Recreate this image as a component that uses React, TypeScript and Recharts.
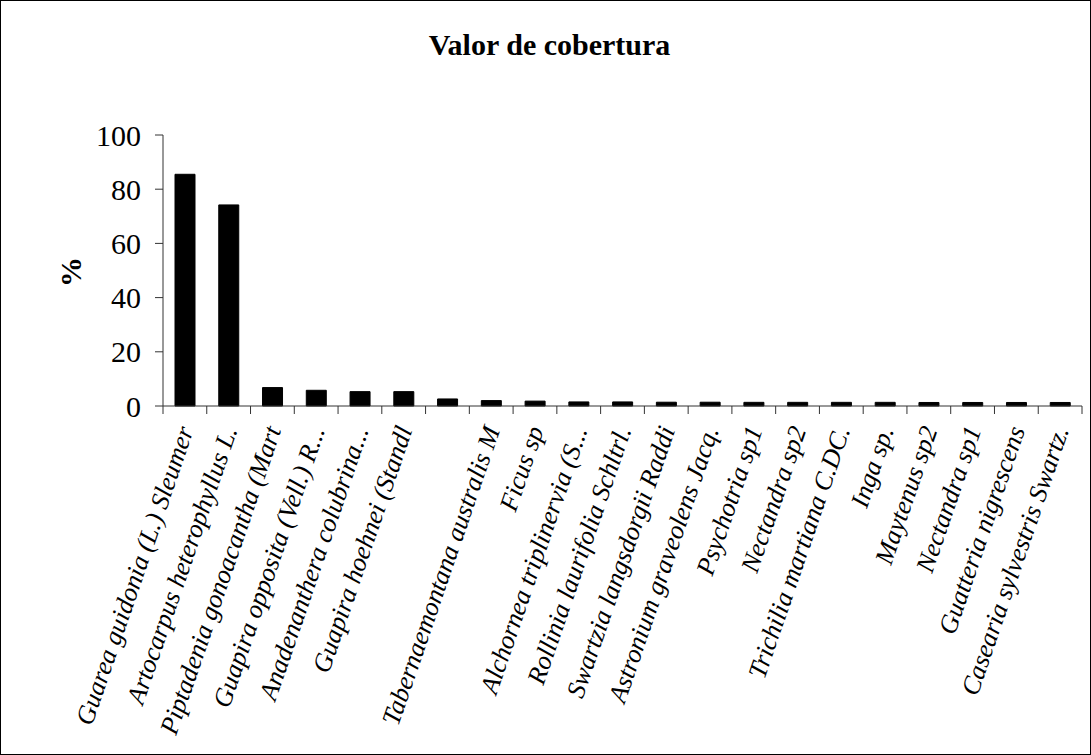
import React from 'react';
import { BarChart, Bar, XAxis, YAxis } from 'recharts';

// species names as they appear (truncated) on the category axis
const species = [
  'Guarea guidonia (L.) Sleumer',
  'Artocarpus heterophyllus L.',
  'Piptadenia gonoacantha (Mart',
  'Guapira opposita (Vell.) R...',
  'Anadenanthera colubrina...',
  'Guapira hoehnei (Standl',
  '',
  'Tabernaemontana australis M',
  'Ficus sp',
  'Alchornea triplinervia (S...',
  'Rollinia laurifolia Schltrl.',
  'Swartzia langsdorgii Raddi',
  'Astronium graveolens Jacq.',
  'Psychotria sp1',
  'Nectandra sp2',
  'Trichilia martiana C.DC.',
  'Inga sp.',
  'Maytenus sp2',
  'Nectandra sp1',
  'Guatteria nigrescens',
  'Casearia sylvestris Swartz.',
];

const cobertura = [
  85.5, 74.2, 6.8, 5.8, 5.3, 5.3, 2.6, 2.0, 1.8, 1.5, 1.5,
  1.4, 1.4, 1.35, 1.35, 1.35, 1.35, 1.3, 1.3, 1.3, 1.3,
];

const yTicks = [0, 20, 40, 60, 80, 100];

const FONT = '"Liberation Serif", "Times New Roman", serif';
const W = 1089;
const H = 753;
const M = { top: 134, right: 8, left: 0, bottom: 0 };
const Y_W = 162;
const X_H = 348;
const BAND = (W - M.left - M.right - Y_W) / species.length;
const AXIS = '#333';

const data = species.map((name, i) => ({ name, value: cobertura[i] }));

function SpeciesTick(props: any) {
  const { x, y, payload, index } = props;
  const last = index === species.length - 1;
  const ax = x + 9;
  const ay = y + 24;
  return (
    <g>
      <line x1={x - BAND / 2} y1={y} x2={x - BAND / 2} y2={y + 8} stroke={AXIS} />
      {last && <line x1={x + BAND / 2} y1={y} x2={x + BAND / 2} y2={y + 8} stroke={AXIS} />}
      <text
        x={ax}
        y={ay}
        textAnchor="end"
        transform={`rotate(-71, ${ax}, ${ay})`}
        fontFamily={FONT}
        fontStyle="italic"
        fontSize={26}
        fill="#000"
      >
        {payload.value}
      </text>
    </g>
  );
}

export default function App() {
  return (
    <div
      style={{
        position: 'absolute',
        left: 0,
        top: 0,
        width: 1091,
        height: 755,
        boxSizing: 'border-box',
        border: '1px solid #000',
        background: '#fff',
      }}
    >
      <div
        style={{
          position: 'absolute',
          left: 8,
          right: 0,
          top: 26,
          textAlign: 'center',
          fontFamily: FONT,
          fontWeight: 'bold',
          fontSize: 30,
          lineHeight: '36px',
        }}
      >
        Valor de cobertura
      </div>
      <div
        style={{
          position: 'absolute',
          left: 70,
          top: 271,
          transform: 'translate(-50%, -50%) rotate(-90deg)',
          fontFamily: FONT,
          fontWeight: 'bold',
          fontSize: 30,
          lineHeight: '34px',
        }}
      >
        %
      </div>
      <BarChart width={W} height={H} data={data} margin={M}>
        <XAxis
          dataKey="name"
          interval={0}
          height={X_H}
          tickLine={false}
          tickSize={0}
          tickMargin={0}
          axisLine={{ stroke: AXIS }}
          tick={<SpeciesTick />}
        />
        <YAxis
          width={Y_W}
          domain={[0, 100]}
          ticks={yTicks}
          tickSize={8}
          tickMargin={14}
          axisLine={{ stroke: AXIS }}
          tickLine={{ stroke: AXIS }}
          tick={{ fill: '#000', fontFamily: FONT, fontSize: 30 }}
        />
        <Bar dataKey="value" fill="#000" stroke="#000" barSize={20} isAnimationActive={false} />
      </BarChart>
    </div>
  );
}
